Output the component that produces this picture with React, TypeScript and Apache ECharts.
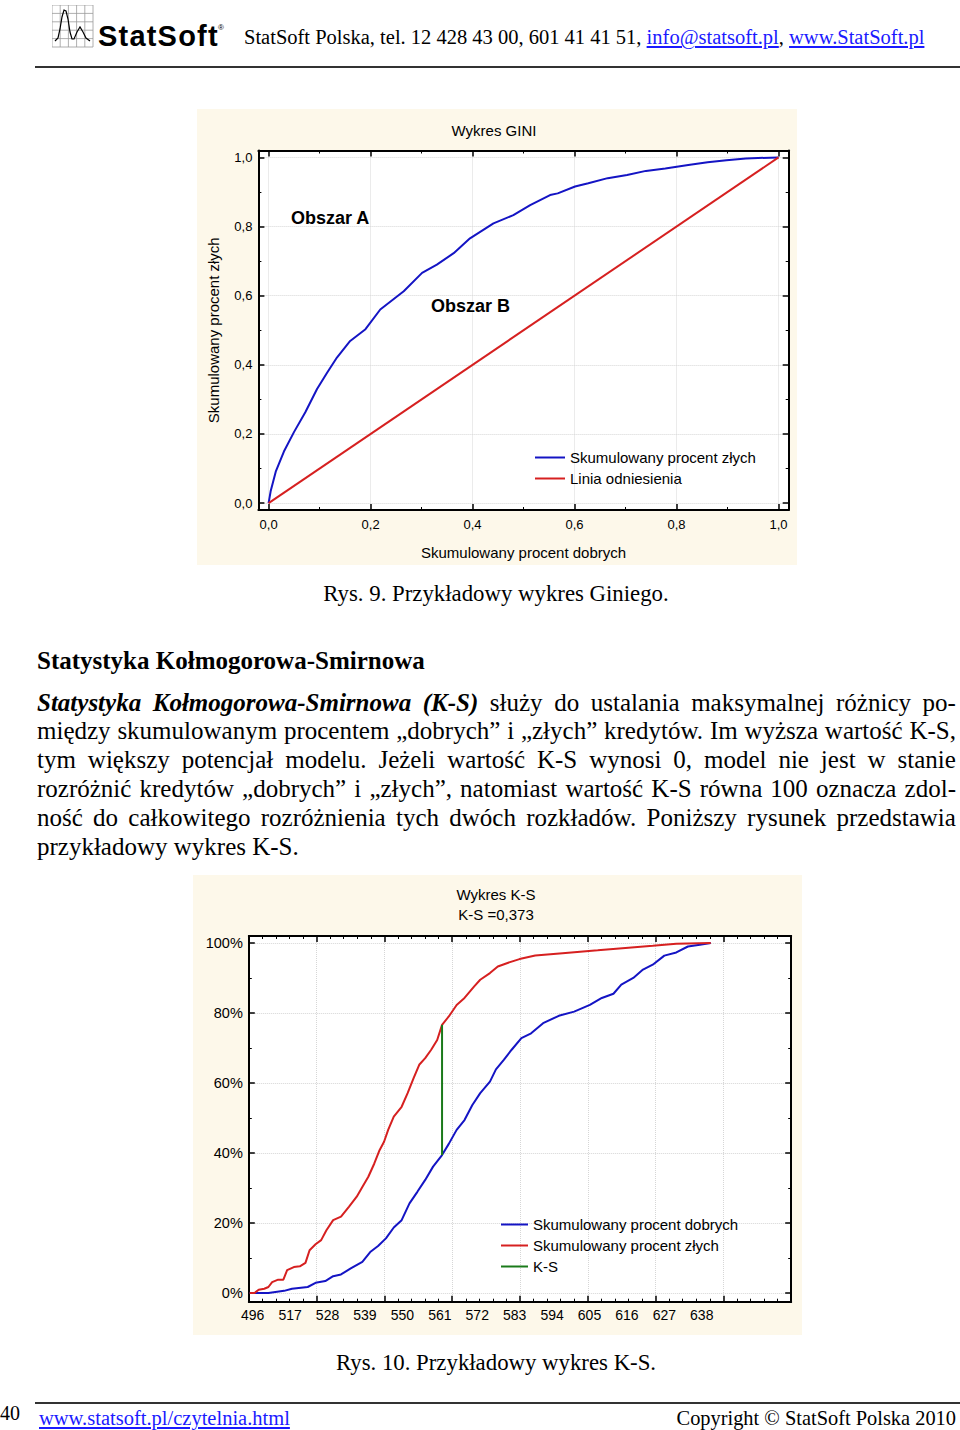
import React, { useEffect, useRef } from "react";
import * as echarts from "echarts";

// ---------------- GINI chart data ----------------
const giniTitle = "Wykres GINI";
const giniXName = "Skumulowany procent dobrych";
const giniYName = "Skumulowany procent złych";
const giniSeriesNames = ["Skumulowany procent złych", "Linia odniesienia"];
const giniAreaLabels = ["Obszar A", "Obszar B"];
const giniGoodShare: number[] = [
  0, 0.004, 0.014, 0.03, 0.05, 0.072, 0.095, 0.115, 0.134, 0.16, 0.19, 0.219, 0.265,
  0.301, 0.33, 0.363, 0.395, 0.441, 0.48, 0.513, 0.552, 0.567, 0.601, 0.627, 0.665,
  0.703, 0.74, 0.778, 0.823, 0.861, 0.898, 0.936, 1.0,
];
const giniBadShare: number[] = [
  0, 0.034, 0.091, 0.149, 0.206, 0.263, 0.33, 0.378, 0.421, 0.469, 0.503, 0.56, 0.613,
  0.666, 0.69, 0.723, 0.766, 0.809, 0.833, 0.862, 0.891, 0.896, 0.916, 0.925, 0.94,
  0.949, 0.961, 0.968, 0.978, 0.986, 0.992, 0.997, 1.0,
];
const giniRefX: number[] = [0, 1];
const giniRefY: number[] = [0, 1];

// ---------------- K-S chart data ----------------
const ksTitle = "Wykres K-S";
const ksSubtitle = "K-S =0,373";
const ksSeriesNames = ["Skumulowany procent dobrych", "Skumulowany procent złych", "K-S"];
const ksTickLabels: string[] = [
  "496", "517", "528", "539", "550", "561", "572", "583", "594", "605", "616", "627", "638",
];
// positions are in units of the score-label spacing (0 = "496", 12 = "638")
const ksBadPos: number[] = [
  -0.08, 0.05, 0.16, 0.31, 0.42, 0.52, 0.68, 0.82, 0.92, 1.1, 1.26, 1.41, 1.52, 1.68, 1.83,
  1.97, 2.15, 2.36, 2.57, 2.78, 2.93, 3.09, 3.25, 3.39, 3.51, 3.62, 3.77, 3.98, 4.14, 4.3,
  4.45, 4.61, 4.77, 4.93, 5.06, 5.24, 5.45, 5.66, 5.92, 6.08, 6.34, 6.55, 6.81, 7.13, 7.55,
  8.28, 9.22, 9.96, 10.69, 11.32, 12.24,
];
const ksBadPct: number[] = [
  0, 0, 0.9, 1.2, 1.7, 3.1, 3.8, 3.8, 6.5, 7.4, 7.6, 8.6, 12.2, 13.9, 15.1, 17.9, 20.8,
  21.8, 24.6, 27.5, 30.3, 33.2, 37.0, 40.8, 43.2, 46.6, 50.4, 53.2, 57.1, 61.4, 65.2, 67.1,
  69.5, 72.3, 76.6, 79.0, 82.3, 84.3, 87.6, 89.5, 91.4, 93.3, 94.3, 95.4, 96.4, 97.1, 97.9,
  98.6, 99.2, 99.8, 100,
];
const ksGoodPos: number[] = [
  -0.08, 0.42, 0.84, 1.05, 1.47, 1.68, 1.94, 2.15, 2.36, 2.62, 2.93, 3.14, 3.35, 3.56, 3.77,
  3.98, 4.19, 4.4, 4.61, 4.82, 5.06, 5.24, 5.45, 5.66, 5.87, 6.08, 6.34, 6.5, 6.71, 6.92,
  7.18, 7.44, 7.76, 8.18, 8.59, 9.01, 9.33, 9.64, 9.85, 10.17, 10.43, 10.69, 11.0, 11.32,
  11.63, 11.95, 12.24,
];
const ksGoodPct: number[] = [
  0, 0, 0.6, 1.2, 1.7, 2.9, 3.4, 4.8, 5.3, 7.0, 8.9, 11.7, 13.4, 15.6, 18.7, 20.8, 25.6,
  28.9, 32.3, 36.1, 39.4, 42.6, 46.6, 49.4, 53.7, 57.1, 60.4, 63.9, 66.6, 69.5, 72.8, 74.2,
  77.1, 79.2, 80.4, 82.3, 84.3, 85.5, 88.1, 90.0, 92.4, 93.8, 96.4, 97.3, 99.0, 99.5, 100,
];
const ksAtPos = 5.06;
const ksLowPct = 39.4;
const ksHighPct = 76.6;

// ---------------- page texts ----------------
const headerText = "StatSoft Polska, tel. 12 428 43 00, 601 41 41 51, ";
const headerMail = "info@statsoft.pl";
const headerWww = "www.StatSoft.pl";
const caption9 = "Rys. 9. Przykładowy wykres Giniego.";
const caption10 = "Rys. 10. Przykładowy wykres K-S.";
const heading = "Statystyka Kołmogorowa-Smirnowa";
const paraLines: string[] = [
  "*Statystyka *Kołmogorowa-Smirnowa *(K-S) służy do ustalania maksymalnej różnicy po-",
  "między skumulowanym procentem „dobrych” i „złych” kredytów. Im wyższa wartość K-S,",
  "tym większy potencjał modelu. Jeżeli wartość K-S wynosi 0, model nie jest w stanie",
  "rozróżnić kredytów „dobrych” i „złych”, natomiast wartość K-S równa 100 oznacza zdol-",
  "ność do całkowitego rozróżnienia tych dwóch rozkładów. Poniższy rysunek przedstawia",
];
const paraLast = "przykładowy wykres K-S.";
const footerLink = "www.statsoft.pl/czytelnia.html";
const footerCopy = "Copyright © StatSoft Polska 2010";
const pageNumber = "40";

const SANS = "'Liberation Sans', Arial, sans-serif";
const SERIF = "'Liberation Serif', 'Times New Roman', serif";
const PANEL = "#fdf8ea";

const frameAxis = (minorSplit: number) => ({
  axisLine: { show: true, onZero: false, lineStyle: { color: "#000", width: 2 } },
  axisTick: { show: true, inside: true, length: 6, lineStyle: { color: "#000", width: 1.5 } },
  minorTick: { show: true, splitNumber: minorSplit, length: 3, lineStyle: { color: "#000", width: 1 } },
});
const gridLine = { show: true, lineStyle: { color: "#d6d6d6", type: "dotted", width: 1 } };

const fmtGini = (v: number) =>
  Math.abs(v * 5 - Math.round(v * 5)) < 1e-6 ? v.toFixed(1).replace(".", ",") : "";

function giniOption(): any {
  const base = { type: "value", min: -0.02, max: 1.02, minInterval: 0.2, maxInterval: 0.2 };
  return {
    animation: false,
    textStyle: { fontFamily: SANS },
    grid: { left: 61.4, top: 41.5, width: 530.3, height: 361.8, show: true, backgroundColor: "#fff", borderWidth: 0 },
    xAxis: [
      {
        ...base, ...frameAxis(2), position: "bottom",
        splitLine: gridLine,
        axisLabel: { show: true, formatter: fmtGini, fontSize: 13, color: "#000", margin: 8, fontFamily: SANS },
        name: giniXName, nameLocation: "middle", nameGap: 35,
        nameTextStyle: { fontSize: 15, color: "#000", fontFamily: SANS },
      },
      { ...base, ...frameAxis(2), position: "top", splitLine: { show: false }, axisLabel: { show: false } },
    ],
    yAxis: [
      {
        ...base, ...frameAxis(2), position: "left",
        splitLine: gridLine,
        axisLabel: { show: true, formatter: fmtGini, fontSize: 13, color: "#000", margin: 6, fontFamily: SANS },
        name: giniYName, nameLocation: "middle", nameGap: 37,
        nameTextStyle: { fontSize: 15, color: "#000", fontFamily: SANS },
      },
      { ...base, ...frameAxis(2), position: "right", splitLine: { show: false }, axisLabel: { show: false } },
    ],
    legend: {
      orient: "vertical", left: 333, top: 336, padding: 5, itemWidth: 30, itemHeight: 2, itemGap: 6, icon: "rect",
      data: giniSeriesNames, textStyle: { fontSize: 15, color: "#000", fontFamily: SANS },
    },
    graphic: [
      { type: "text", x: 297, y: 21, style: { text: giniTitle, font: `15px ${SANS}`, fill: "#000", align: "center", verticalAlign: "middle" } },
      { type: "text", x: 94, y: 109, z: 10, style: { text: giniAreaLabels[0], font: `bold 18px ${SANS}`, fill: "#000", align: "left", verticalAlign: "middle" } },
      { type: "text", x: 234, y: 197, z: 10, style: { text: giniAreaLabels[1], font: `bold 18px ${SANS}`, fill: "#000", align: "left", verticalAlign: "middle" } },
    ],
    series: [
      {
        name: giniSeriesNames[0], type: "line", showSymbol: false, symbol: "none",
        color: "#1414c4", lineStyle: { width: 2, color: "#1414c4" },
        data: giniGoodShare.map((x, i) => [x, giniBadShare[i]]),
      },
      {
        name: giniSeriesNames[1], type: "line", showSymbol: false, symbol: "none",
        color: "#d62020", lineStyle: { width: 2, color: "#d62020" },
        data: giniRefX.map((x, i) => [x, giniRefY[i]]),
      },
    ],
  };
}

function ksOption(): any {
  const frameX = { type: "value", min: 0, max: 8, interval: 1 };
  const yBase = { type: "value", min: -2.5, max: 102, minInterval: 20, maxInterval: 20 };
  return {
    animation: false,
    textStyle: { fontFamily: SANS },
    grid: { left: 55.8, top: 61, width: 542.4, height: 365.7, show: true, backgroundColor: "#fff", borderWidth: 0 },
    xAxis: [
      { ...frameX, ...frameAxis(5), position: "bottom", splitLine: gridLine, axisLabel: { show: false } },
      { ...frameX, ...frameAxis(5), position: "top", splitLine: { show: false }, axisLabel: { show: false } },
      {
        type: "value", position: "bottom", min: -0.104, max: 14.39, minInterval: 1, maxInterval: 1,
        axisLine: { show: false, onZero: false }, axisTick: { show: false }, splitLine: { show: false },
        axisLabel: {
          show: true, fontSize: 14, color: "#000", margin: 6, fontFamily: SANS,
          formatter: (v: number) => {
            const k = Math.round(v);
            return Math.abs(v - k) < 1e-6 && ksTickLabels[k] ? ksTickLabels[k] : "";
          },
        },
      },
    ],
    yAxis: [
      {
        ...yBase, ...frameAxis(2), position: "left", splitLine: gridLine,
        axisLabel: {
          show: true, fontSize: 14.5, color: "#000", margin: 6, fontFamily: SANS,
          formatter: (v: number) => (Math.abs(v % 20) < 1e-6 ? `${Math.round(v)}%` : ""),
        },
      },
      { ...yBase, ...frameAxis(2), position: "right", splitLine: { show: false }, axisLabel: { show: false } },
    ],
    legend: {
      orient: "vertical", left: 303, top: 337, padding: 5, itemWidth: 27, itemHeight: 2, itemGap: 6, icon: "rect",
      data: ksSeriesNames, textStyle: { fontSize: 15, color: "#000", fontFamily: SANS },
    },
    graphic: [
      { type: "text", x: 303, y: 19, style: { text: ksTitle, font: `15px ${SANS}`, fill: "#000", align: "center", verticalAlign: "middle" } },
      { type: "text", x: 303, y: 39, style: { text: ksSubtitle, font: `15px ${SANS}`, fill: "#000", align: "center", verticalAlign: "middle" } },
    ],
    series: [
      {
        name: ksSeriesNames[0], type: "line", xAxisIndex: 2, yAxisIndex: 0, showSymbol: false, symbol: "none",
        color: "#1414c4", lineStyle: { width: 2, color: "#1414c4" },
        data: ksGoodPos.map((x, i) => [x, ksGoodPct[i]]),
      },
      {
        name: ksSeriesNames[1], type: "line", xAxisIndex: 2, yAxisIndex: 0, showSymbol: false, symbol: "none",
        color: "#d62020", lineStyle: { width: 2, color: "#d62020" },
        data: ksBadPos.map((x, i) => [x, ksBadPct[i]]),
      },
      {
        name: ksSeriesNames[2], type: "line", xAxisIndex: 2, yAxisIndex: 0, showSymbol: false, symbol: "none",
        color: "#1a7a1a", lineStyle: { width: 2, color: "#1a7a1a" },
        data: [[ksAtPos, ksLowPct], [ksAtPos, ksHighPct]],
      },
    ],
  };
}

function EChart({ option, style }: { option: any; style: React.CSSProperties }) {
  const ref = useRef<HTMLDivElement>(null);
  useEffect(() => {
    const chart = echarts.init(ref.current as HTMLDivElement, null, { renderer: "svg" });
    chart.setOption(option);
    return () => chart.dispose();
  }, []);
  return <div ref={ref} style={style} />;
}

function JustifiedLine({ text, top }: { text: string; top: number }) {
  const words = text.split(" ");
  return (
    <div
      style={{
        position: "absolute", left: 37, top, width: 919, display: "flex",
        justifyContent: "space-between", fontSize: 25, lineHeight: "28.8px", whiteSpace: "nowrap",
      }}
    >
      {words.map((w, i) =>
        w.startsWith("*") ? (
          <span key={i} style={{ fontWeight: "bold", fontStyle: "italic" }}>{w.slice(1)}</span>
        ) : (
          <span key={i}>{w}</span>
        )
      )}
    </div>
  );
}

function Logo() {
  const grid = [];
  for (let i = 0; i <= 5; i++) {
    grid.push(<line key={"v" + i} x1={i * 8.2} y1={0} x2={i * 8.2} y2={42} stroke="#9a9a9a" strokeWidth={0.8} />);
    grid.push(<line key={"h" + i} x1={0} y1={i * 8.4} x2={41} y2={i * 8.4} stroke="#9a9a9a" strokeWidth={0.8} />);
  }
  return (
    <svg width={42} height={43} style={{ position: "absolute", left: 52, top: 5 }}>
      {grid}
      <polyline
        points="3,36 6,33 8,24 10,12 12,5 14,6 16,14 18,27 20,34 22,34 25,27 28,22 31,27 34,33 38,36"
        fill="none" stroke="#000" strokeWidth={1.2}
      />
    </svg>
  );
}

export default function App() {
  const link: React.CSSProperties = { color: "#1a1aff", textDecoration: "underline" };
  return (
    <div
      style={{
        position: "absolute", left: 0, top: 0, width: 960, height: 1430, background: "#fff",
        overflow: "hidden", fontFamily: SERIF, color: "#000",
      }}
    >
      {/* header */}
      <Logo />
      <div style={{ position: "absolute", left: 98, top: 22, fontFamily: SANS, fontWeight: "bold", fontSize: 29, lineHeight: "29px", letterSpacing: 1.2 }}>
        StatSoft
      </div>
      <div style={{ position: "absolute", left: 218, top: 24, fontFamily: SANS, fontSize: 8, lineHeight: "8px" }}>®</div>
      <div style={{ position: "absolute", left: 244, top: 25, fontSize: 20.5, lineHeight: "24px", whiteSpace: "nowrap" }}>
        {headerText}
        <span style={link}>{headerMail}</span>, <span style={link}>{headerWww}</span>
      </div>
      <div style={{ position: "absolute", left: 35, top: 66, width: 925, height: 2, background: "#333" }} />

      {/* GINI chart */}
      <EChart option={giniOption()} style={{ position: "absolute", left: 197, top: 109, width: 600, height: 456, background: PANEL }} />
      <div style={{ position: "absolute", left: 196, top: 579.5, width: 600, textAlign: "center", fontSize: 22.8, lineHeight: "27px", whiteSpace: "nowrap" }}>
        {caption9}
      </div>

      {/* text */}
      <div style={{ position: "absolute", left: 37, top: 646.6, fontSize: 25, lineHeight: "28.8px", fontWeight: "bold", whiteSpace: "nowrap" }}>
        {heading}
      </div>
      {paraLines.map((l, i) => (
        <JustifiedLine key={i} text={l} top={688.6 + i * 28.8} />
      ))}
      <div style={{ position: "absolute", left: 37, top: 688.6 + 5 * 28.8, fontSize: 25, lineHeight: "28.8px", whiteSpace: "nowrap" }}>
        {paraLast}
      </div>

      {/* K-S chart */}
      <EChart option={ksOption()} style={{ position: "absolute", left: 193, top: 875, width: 609, height: 460, background: PANEL }} />
      <div style={{ position: "absolute", left: 196, top: 1348.5, width: 600, textAlign: "center", fontSize: 22.8, lineHeight: "27px", whiteSpace: "nowrap" }}>
        {caption10}
      </div>

      {/* footer */}
      <div style={{ position: "absolute", left: 35, top: 1402, width: 925, height: 2, background: "#333" }} />
      <div style={{ position: "absolute", left: 0, top: 1401, fontSize: 20, lineHeight: "24px" }}>{pageNumber}</div>
      <div style={{ position: "absolute", left: 39, top: 1406, fontSize: 20.5, lineHeight: "24px", whiteSpace: "nowrap" }}>
        <span style={link}>{footerLink}</span>
      </div>
      <div style={{ position: "absolute", right: 4, top: 1406, fontSize: 20.4, lineHeight: "24px", whiteSpace: "nowrap" }}>
        {footerCopy}
      </div>
    </div>
  );
}
